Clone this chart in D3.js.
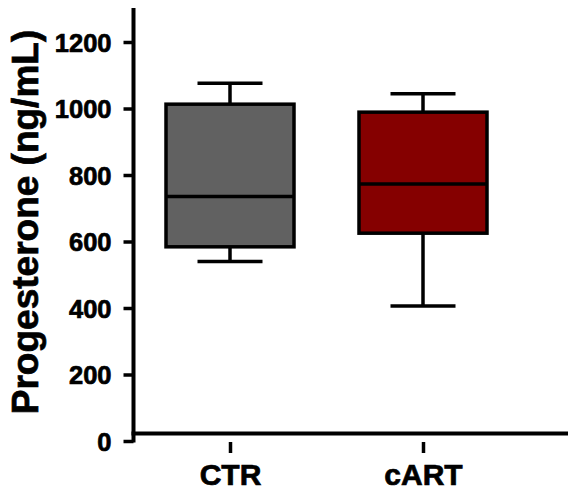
<!DOCTYPE html>
<html>
<head>
<meta charset="utf-8">
<script src="https://cdn.jsdelivr.net/npm/d3@7/dist/d3.min.js"></script>
<style>
  html, body { margin: 0; padding: 0; background: #fff; }
  svg { display: block; }
  text { font-family: "Liberation Sans", Arial, sans-serif; font-weight: bold; fill: #000; stroke: #000; stroke-width: 0.7px; }
</style>
</head>
<body>
<svg id="chart" width="568" height="491"></svg>
<script>
const categories = ["CTR", "cART"];
const whiskerLow = [540, 406];
const q1 = [584, 625];
const median = [735, 773];
const q3 = [1013, 989];
const whiskerHigh = [1076, 1044];
const fills = ["#616161", "#850000"];
const yTicks = [0, 200, 400, 600, 800, 1000, 1200];
const yLabel = "Progesterone (ng/mL)";

const svg = d3.select("#chart");
const W = 568, H = 491;

const y = d3.scaleLinear().domain([0, 1200]).range([441, 42]);
const x = d3.scalePoint().domain(categories).range([230, 423]);
const boxW = 128, capW = 65;

// Y axis
const yAxis = d3.axisLeft(y).tickValues(yTicks).tickSize(10).tickSizeOuter(0).tickPadding(12).tickFormat(d3.format("d"));
const gy = svg.append("g").attr("transform", "translate(133.5,0)").call(yAxis);
gy.select(".domain").remove();
gy.selectAll(".tick line").attr("stroke", "#000").attr("stroke-width", 3.5);
gy.selectAll(".tick text").style("font-size", "25.5px").attr("fill", "#000").attr("dy", "0.36em");
gy.append("line").attr("x1", 0).attr("x2", 0).attr("y1", y(1302)).attr("y2", y(0) + 1.5)
  .attr("stroke", "#000").attr("stroke-width", 4);

// X axis
const xAxis = d3.axisBottom(x).tickSize(11).tickSizeOuter(0);
const gx = svg.append("g").attr("transform", "translate(0,442)").call(xAxis);
gx.select(".domain").remove();
gx.selectAll(".tick line").attr("stroke", "#000").attr("stroke-width", 3.5);
gx.selectAll(".tick text").style("font-size", "30px").attr("fill", "#000").attr("y", 43).attr("dy", 0);
svg.append("line").attr("x1", 131.5).attr("x2", W).attr("y1", 433.5).attr("y2", 433.5)
  .attr("stroke", "#000").attr("stroke-width", 4);

// Y label
svg.append("text")
  .attr("transform", `translate(38,222) rotate(-90)`)
  .attr("text-anchor", "middle")
  .style("font-size", "37px")
  .text(yLabel);

// Boxes
const data = categories.map((c, i) => ({c, lo: whiskerLow[i], q1: q1[i], med: median[i], q3: q3[i], hi: whiskerHigh[i], fill: fills[i]}));
const g = svg.append("g").selectAll("g").data(data).join("g");
const sw = 3.5;
g.append("line").attr("x1", d => x(d.c)).attr("x2", d => x(d.c))
  .attr("y1", d => y(d.hi)).attr("y2", d => y(d.q3)).attr("stroke", "#000").attr("stroke-width", sw);
g.append("line").attr("x1", d => x(d.c)).attr("x2", d => x(d.c))
  .attr("y1", d => y(d.q1)).attr("y2", d => y(d.lo)).attr("stroke", "#000").attr("stroke-width", sw);
g.append("line").attr("x1", d => x(d.c) - capW / 2).attr("x2", d => x(d.c) + capW / 2)
  .attr("y1", d => y(d.hi)).attr("y2", d => y(d.hi)).attr("stroke", "#000").attr("stroke-width", sw);
g.append("line").attr("x1", d => x(d.c) - capW / 2).attr("x2", d => x(d.c) + capW / 2)
  .attr("y1", d => y(d.lo)).attr("y2", d => y(d.lo)).attr("stroke", "#000").attr("stroke-width", sw);
g.append("rect").attr("x", d => x(d.c) - boxW / 2).attr("width", boxW)
  .attr("y", d => y(d.q3)).attr("height", d => y(d.q1) - y(d.q3))
  .attr("fill", d => d.fill).attr("stroke", "#000").attr("stroke-width", sw);
g.append("line").attr("x1", d => x(d.c) - boxW / 2).attr("x2", d => x(d.c) + boxW / 2)
  .attr("y1", d => y(d.med)).attr("y2", d => y(d.med)).attr("stroke", "#000").attr("stroke-width", sw);
</script>
</body>
</html>
